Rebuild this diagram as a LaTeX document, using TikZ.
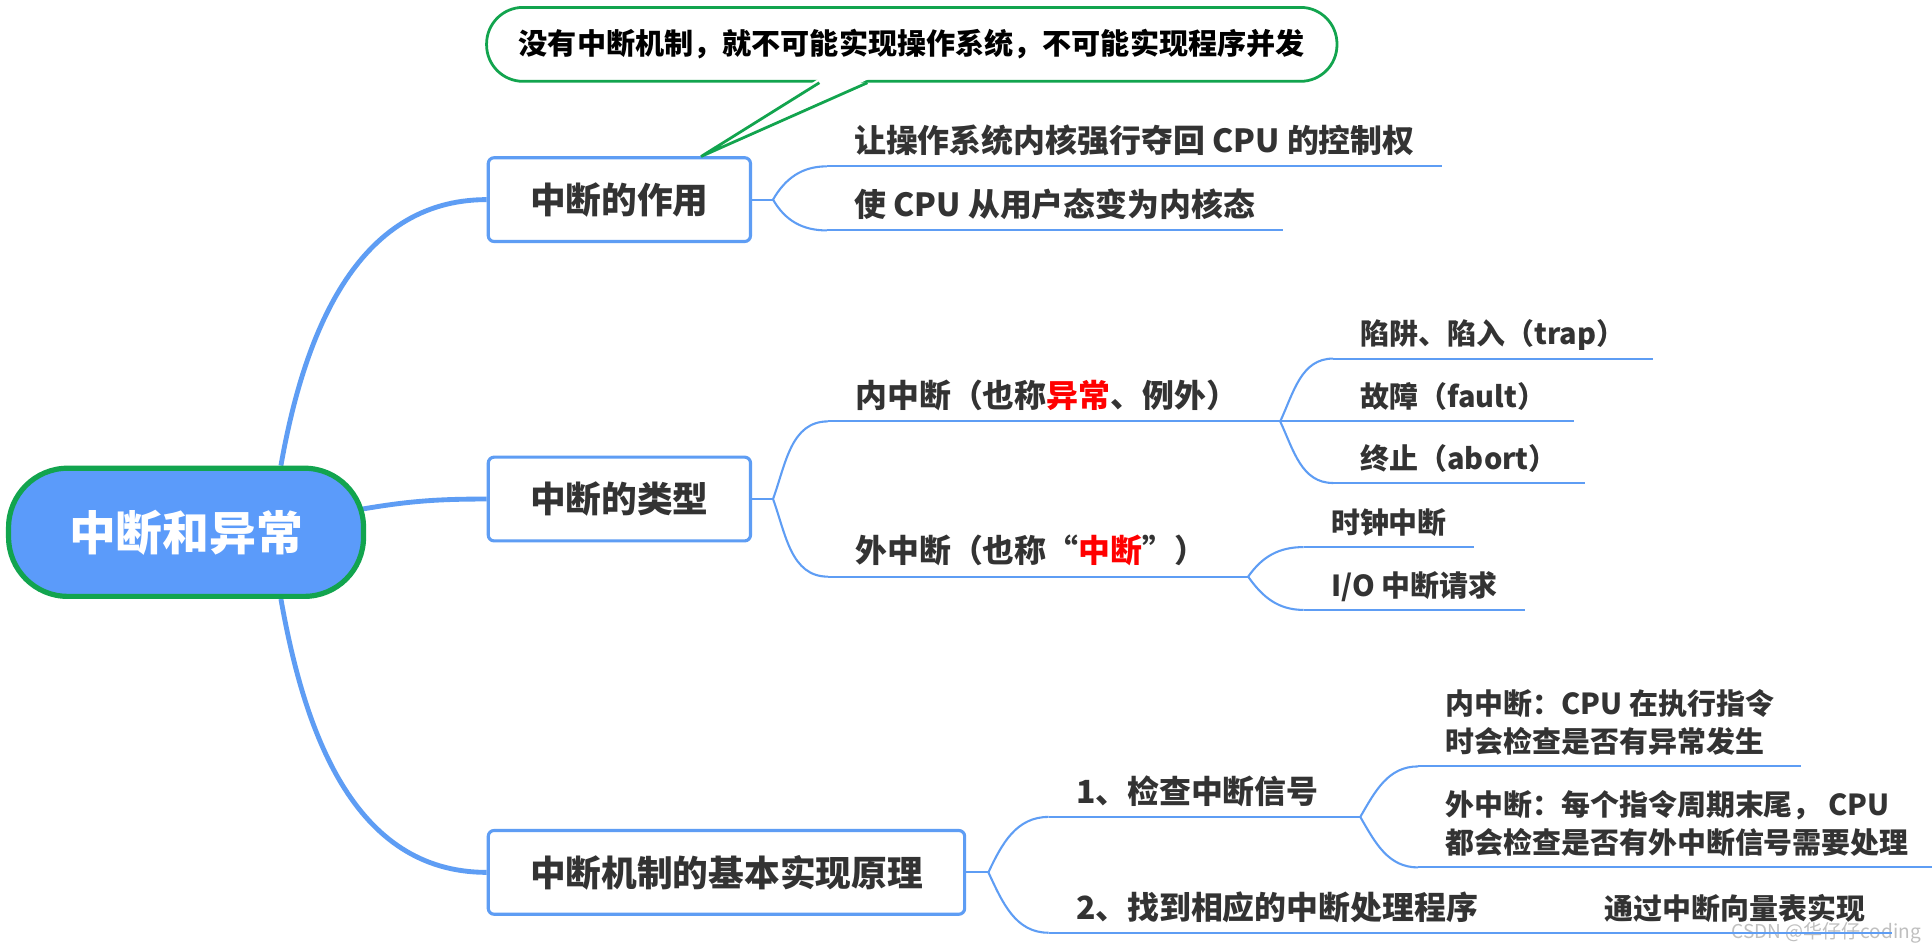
\documentclass[tikz,border=0pt]{standalone}
\usepackage{fontspec}
\setmainfont{Noto Sans CJK SC}
\usetikzlibrary{positioning,calc,backgrounds}
\definecolor{mapblue}{HTML}{5E9DF4}
\definecolor{rootblue}{HTML}{5B9BFA}
\definecolor{notegreen}{HTML}{12A44E}
\definecolor{inkgray}{HTML}{333333}
\tikzset{>=latex}

\begin{document}
\begin{tikzpicture}[x=0.025cm,y=-0.025cm]

        % Setup the styles for the topics
        \tikzset{root style/.style={draw=notegreen, line width=3pt, fill=rootblue,
                                    rounded corners=1.2cm, minimum width=7.2cm, minimum height=2.6cm,
                                    text=white, font=\bfseries\fontsize{27}{30}\selectfont},
                 box style/.style={draw=mapblue, line width=1.8pt, fill=white, anchor=west,
                                   rounded corners=0.12cm, minimum height=1.7cm, inner xsep=0.85cm,
                                   text=inkgray, font=\bfseries\fontsize{20.6}{24}\selectfont},
                 topic style/.style={anchor=south west, inner xsep=0.55cm, inner ysep=0pt,
                                     text depth=0.27cm, text=inkgray},
                 mid font/.style={font=\bfseries\fontsize{18.4}{22}\selectfont},
                 leaf font/.style={font=\bfseries\fontsize{16.7}{22}\selectfont},
                 main link/.style={draw=mapblue, line width=2.8pt},
                 thin link/.style={draw=mapblue, line width=1.2pt},
                 note line/.style={draw=notegreen, line width=1.6pt}}

        \useasboundingbox (0,0) rectangle (1568,765);

        % Draw the topics
        \node[root style] at (151,432)     (root)     {中断和异常};
        \node[box style] at (395,162)      (act)      {中断的作用};
        \node[box style] at (395,405)      (kind)     {中断的类型};
        \node[box style] at (395,708)      (impl)     {中断机制的基本实现原理};

        \node[topic style, mid font] at (671,135)    (act1)    {让操作系统内核强行夺回 CPU 的控制权};
        \node[topic style, mid font] at (671,187)    (act2)    {使 CPU 从用户态变为内核态};
        \node[topic style, mid font] at (672,342)    (inner)   {内中断（也称\textcolor{red}{异常}、例外）};
        \node[topic style, mid font] at (672,468)    (outer)   {外中断（也称“\textcolor{red}{中断}”）};
        \node[topic style, leaf font] at (1082,291)  (trap)    {陷阱、陷入（trap）};
        \node[topic style, leaf font] at (1082,342)  (fault)   {故障（fault）};
        \node[topic style, leaf font] at (1082,392)  (abort)   {终止（abort）};
        \node[topic style, leaf font] at (1058,444)  (clock)   {时钟中断};
        \node[topic style, leaf font] at (1058,495)  (io)      {I/O 中断请求};
        \node[topic style, mid font] at (851,663)    (check)   {1、检查中断信号};
        \node[topic style, mid font] at (851,757)    (find)    {2、找到相应的中断处理程序};
        \node[topic style, leaf font] at (1151,622)  (chkin)
            {\begin{tabular}[b]{@{}l@{}}内中断：CPU 在执行指令\\时会检查是否有异常发生\end{tabular}};
        \node[topic style, leaf font] at (1151,704)  (chkout)
            {\begin{tabular}[b]{@{}l@{}}外中断：每个指令周期末尾， CPU\\都会检查是否有外中断信号需要处理\end{tabular}};
        \node[topic style, leaf font] at (1280,757)  (vec)     {通过中断向量表实现};

        % The callout above the first topic
        \node[draw=notegreen, line width=1.6pt, fill=white, rounded corners=0.74cm,
              minimum width=17.25cm, minimum height=1.5cm,
              font=\bfseries\fontsize{16.8}{20}\selectfont] at (740,36) (note)
            {没有中断机制，就不可能实现操作系统，不可能实现程序并发};
        \coordinate (tip) at (569,127);
        \fill[white] ($(note.south)+(-76,-3)$) -- (tip) -- ($(note.south)+(-35,-3)$) -- cycle;
        \draw[note line] ($(note.south)+(-75,0)$) -- (tip) -- ($(note.south)+(-36,0)$);

        \node[text=gray, opacity=0.5, anchor=east, font=\fontsize{11}{11}\selectfont] at (1564,757) (mark)
            {CSDN @华仔仔coding};

        % Underlines of the topics
        \foreach \n in {act1,act2,inner,outer,trap,fault,abort,clock,io,check,find,chkin,chkout,vec}
            \draw[thin link] (\n.south west) -- (\n.south east);

        % Connect the topics
        \begin{scope}[on background layer]
            \fill[white] (0,0) rectangle (1568,765);
            \draw[main link] ($(root.north)+(77,0)$) to[out=80,in=180] (act.west);
            \draw[main link] ($(root.east)+(-8,-18)$) to[out=10,in=180] (kind.west);
            \draw[main link] ($(root.south)+(77,0)$) to[out=-80,in=180] (impl.west);
        \end{scope}

        \draw[thin link] (act.east) -- ++(17,0) coordinate (actsplit);
        \draw[thin link] (actsplit) to[out=60,in=180] (act1.south west);
        \draw[thin link] (actsplit) to[out=-60,in=180] (act2.south west);

        \draw[thin link] (kind.east) -- ++(17,0) coordinate (kindsplit);
        \draw[thin link] (kindsplit) to[out=70,in=180] (inner.south west);
        \draw[thin link] (kindsplit) to[out=-70,in=180] (outer.south west);

        \coordinate (innersplit) at ($(fault.south west)+(-43,0)$);
        \draw[thin link] (inner.south east) -- (fault.south west);
        \draw[thin link] (innersplit) to[out=65,in=180] (trap.south west);
        \draw[thin link] (innersplit) to[out=-65,in=180] (abort.south west);

        \coordinate (outersplit) at ($(clock.south west |- outer.south)+(-45,0)$);
        \draw[thin link] (outer.south east) -- (outersplit);
        \draw[thin link] (outersplit) to[out=55,in=180] (clock.south west);
        \draw[thin link] (outersplit) to[out=-55,in=180] (io.south west);

        \draw[thin link] (impl.east) -- ++(18,0) coordinate (implsplit);
        \draw[thin link] (implsplit) to[out=65,in=180] (check.south west);
        \draw[thin link] (implsplit) to[out=-65,in=180] (find.south west);

        \coordinate (checksplit) at ($(chkin.south west |- check.south)+(-47,0)$);
        \draw[thin link] (check.south east) -- (checksplit);
        \draw[thin link] (checksplit) to[out=60,in=180] (chkin.south west);
        \draw[thin link] (checksplit) to[out=-60,in=180] (chkout.south west);

        \draw[thin link] (find.south east) -- (vec.south west);
\end{tikzpicture}
\end{document}
